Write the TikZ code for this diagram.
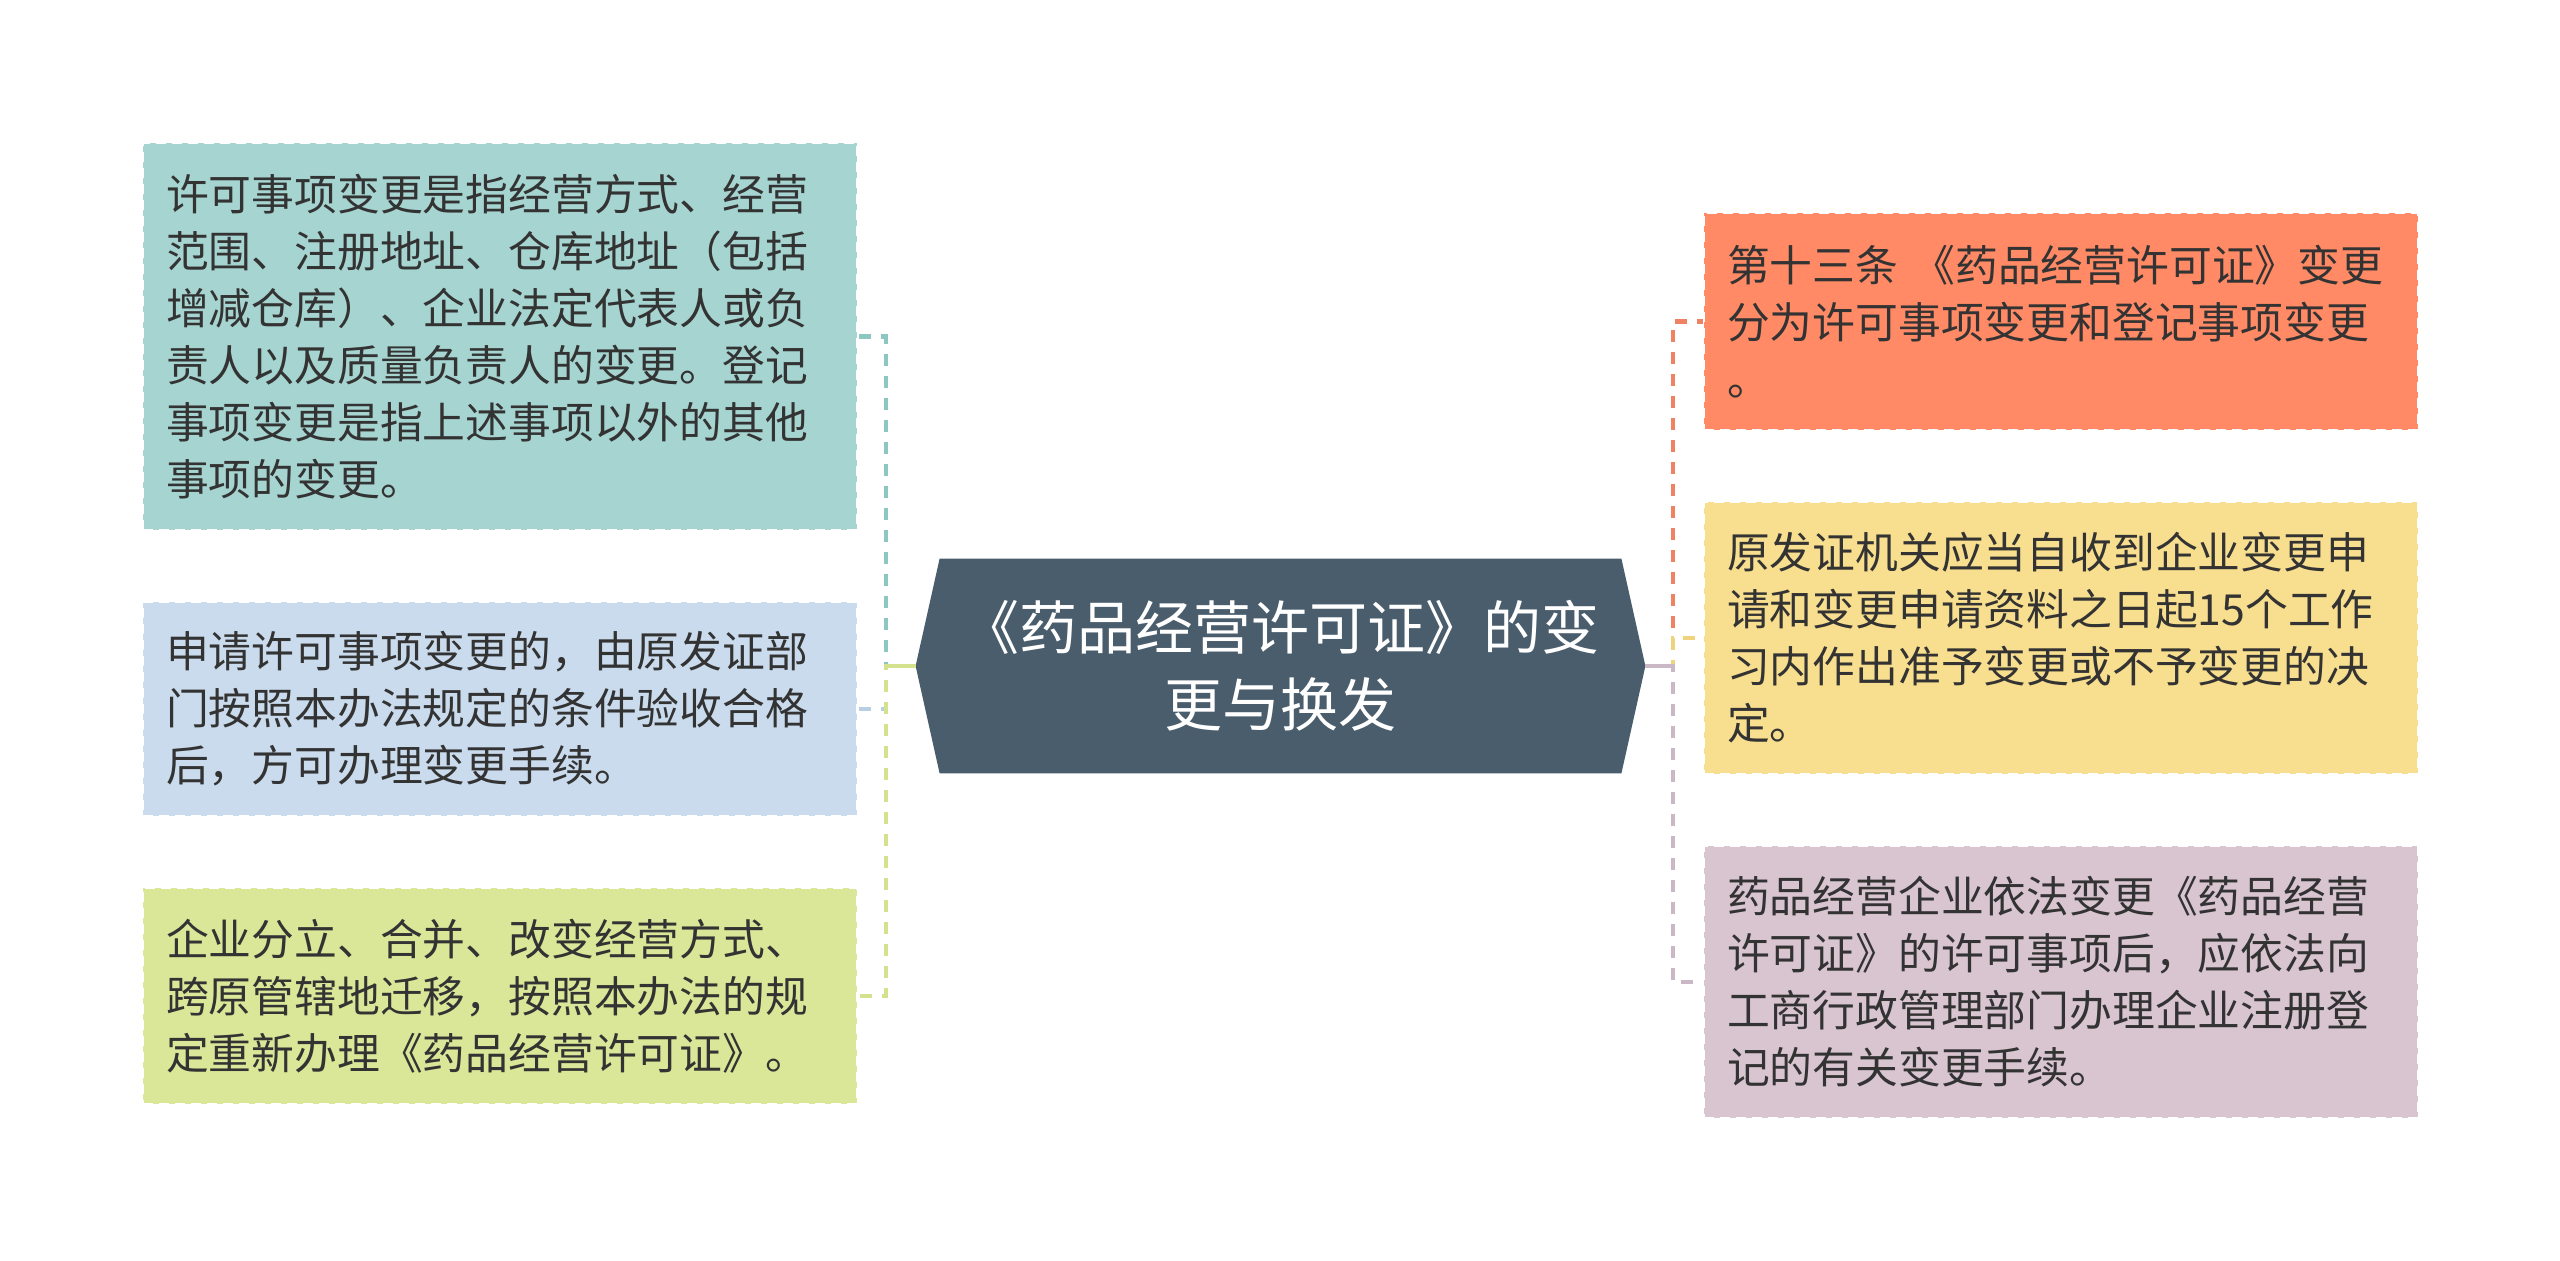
\documentclass[tikz,border=0pt]{standalone}
\usepackage{fontspec}
\setmainfont{Noto Sans CJK SC}
\usetikzlibrary{backgrounds}
\definecolor{Hub}{RGB}{74,93,108}
\definecolor{Ink}{RGB}{51,51,51}
\definecolor{Teal}{RGB}{166,212,208}
\definecolor{TealLine}{RGB}{140,199,193}
\definecolor{Sky}{RGB}{201,219,236}
\definecolor{SkyLine}{RGB}{184,206,228}
\definecolor{Lime}{RGB}{218,231,152}
\definecolor{LimeLine}{RGB}{212,226,142}
\definecolor{Salmon}{RGB}{255,138,101}
\definecolor{SalmonLine}{RGB}{240,130,100}
\definecolor{Sand}{RGB}{248,222,143}
\definecolor{SandLine}{RGB}{240,212,125}
\definecolor{Mauve}{RGB}{216,197,208}
\definecolor{MauveLine}{RGB}{203,184,198}

\begin{document}
\begin{tikzpicture}[x=0.5pt, y=-0.5pt]
			\tikzstyle{leaf}=[draw=white, dash pattern=on 5pt off 3pt, line width=0.8pt, shape=rectangle, minimum width=357pt, text width=334pt, inner xsep=11.5pt, inner ysep=0pt, align=left, text=Ink, font=\fontsize{21.4}{28.5}\selectfont]
			\tikzstyle{hub}=[shape=rectangle, minimum width=364.5pt, minimum height=107pt, inner sep=0pt, align=center, text=white, font=\fontsize{29}{38.5}\selectfont]
			\tikzstyle{branch}=[line width=2.4pt, dash pattern=on 6pt off 5pt]
			\tikzstyle{trunk}=[line width=2.4pt]
			\useasboundingbox (0,0) rectangle (2560,1261);
			% centre
			\node [hub] (hub) at (1280.5, 666) {《药品经营许可证》的变\\更与换发};
			\begin{scope}[on background layer]
				\fill [Hub] (hub.west) -- ([xshift=12pt]hub.north west) -- ([xshift=-12pt]hub.north east) -- (hub.east) -- ([xshift=-12pt]hub.south east) -- ([xshift=12pt]hub.south west) -- cycle;
			\end{scope}
			% left side
			\node [leaf, fill=Teal, minimum height=193.5pt] (permit) at (500, 336.5) {许可事项变更是指经营方式、经营\\范围、注册地址、仓库地址（包括\\增减仓库）、企业法定代表人或负\\责人以及质量负责人的变更。登记\\事项变更是指上述事项以外的其他\\事项的变更。};
			\node [leaf, fill=Sky, minimum height=107pt] (apply) at (500, 709) {申请许可事项变更的，由原发证部\\门按照本办法规定的条件验收合格\\后，方可办理变更手续。};
			\node [leaf, fill=Lime, minimum height=108pt] (split) at (500, 996) {企业分立、合并、改变经营方式、\\跨原管辖地迁移，按照本办法的规\\定重新办理《药品经营许可证》。};
			% right side
			\node [leaf, fill=Salmon, minimum height=108.5pt] (article) at (2061, 321.5) {第十三条 《药品经营许可证》变更\\分为许可事项变更和登记事项变更\\。};
			\node [leaf, fill=Sand, minimum height=136pt] (review) at (2061, 638) {原发证机关应当自收到企业变更申\\请和变更申请资料之日起15个工作\\习内作出准予变更或不予变更的决\\定。};
			\node [leaf, fill=Mauve, minimum height=136pt] (register) at (2061, 982) {药品经营企业依法变更《药品经营\\许可证》的许可事项后，应依法向\\工商行政管理部门办理企业注册登\\记的有关变更手续。};
			% connectors
			\coordinate (jl) at (886, 666);
			\coordinate (jr) at (1673, 666);
			\draw [branch, TealLine] (hub.west) -- (jl) |- (permit.east);
			\draw [branch, SkyLine] (hub.west) -- (jl) |- (apply.east);
			\draw [branch, LimeLine] (hub.west) -- (jl) |- (split.east);
			\draw [trunk, LimeLine] (hub.west) -- (jl);
			\draw [branch, SalmonLine] (hub.east) -- (jr) |- (article.west);
			\draw [branch, SandLine] (hub.east) -- (jr) |- (review.west);
			\draw [branch, MauveLine] (hub.east) -- (jr) |- (register.west);
			\draw [trunk, MauveLine] (hub.east) -- (jr);
\end{tikzpicture}
\end{document}
